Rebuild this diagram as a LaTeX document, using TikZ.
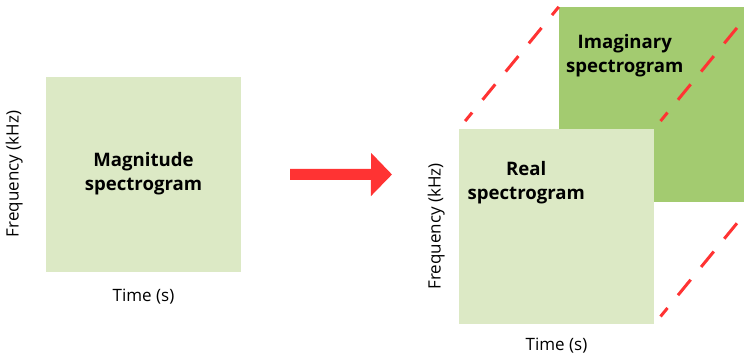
\documentclass[tikz,border=0pt]{standalone}
\usepackage{fontspec}
\setmainfont{Open Sans}
\usetikzlibrary{arrows.meta, positioning}
\definecolor{lightleaf}{RGB}{220,233,197}
\definecolor{darkleaf}{RGB}{163,203,112}
\definecolor{arrowred}{RGB}{255,51,51}

\begin{document}
\begin{tikzpicture}[
    x=1pt, y=-1pt,
    specbox/.style={
        rectangle,
        inner sep=0pt,
        minimum width=195pt,
        minimum height=195pt
    },
    title/.style={
        align=center,
        font=\fontsize{18.6}{24}\selectfont\bfseries
    },
    axis/.style={
        inner sep=0pt,
        font=\fontsize{17}{20}\selectfont
    },
    arrow/.style={-{Triangle[length=21pt, width=42pt]}, line width=11pt, draw=arrowred},
    guide/.style={draw=arrowred, line width=3pt, dash pattern=on 20pt off 16.5pt, dash phase=9pt, shorten <=10pt}
]
\useasboundingbox (0,0) rectangle (744,356);

% ---------------- Magnitude ----------------
\node[specbox, fill=lightleaf, title] (mag) at (143.5,174) {Magnitude\\spectrogram};
\node[axis, below=17pt of mag] (magtime) {Time (s)};
\node[axis, rotate=90, anchor=south] (magfreq) at ([xshift=-23pt]mag.west) {Frequency (kHz)};

% ---------------- Real / Imaginary ----------------
\node[specbox, fill=darkleaf] (imag) at (656.5,104.5) {};
\node[specbox, fill=lightleaf] (real) at (556.5,226.5) {};

\node[title] (imagtext) at ([xshift=66pt, yshift=-49pt]imag.north west) {Imaginary\\spectrogram};
\node[title] (realtext) at ([xshift=67.5pt, yshift=-53.5pt]real.north west) {Real\\spectrogram};

\node[axis, below=14pt of real] (realtime) {Time (s)};
\node[axis, rotate=90, anchor=south] (realfreq) at ([xshift=-14pt]real.west) {Frequency (kHz)};

\draw[guide] (real.north west) -- (imag.north west);
\draw[guide] (real.north east) -- (imag.north east);
\draw[guide] (real.south east) -- (imag.south east);

% ---------------- Arrow ----------------
\coordinate (arrowtip) at (392,174.5);
\draw[arrow, shorten <=49pt] (mag) -- (arrowtip);

\end{tikzpicture}
\end{document}
